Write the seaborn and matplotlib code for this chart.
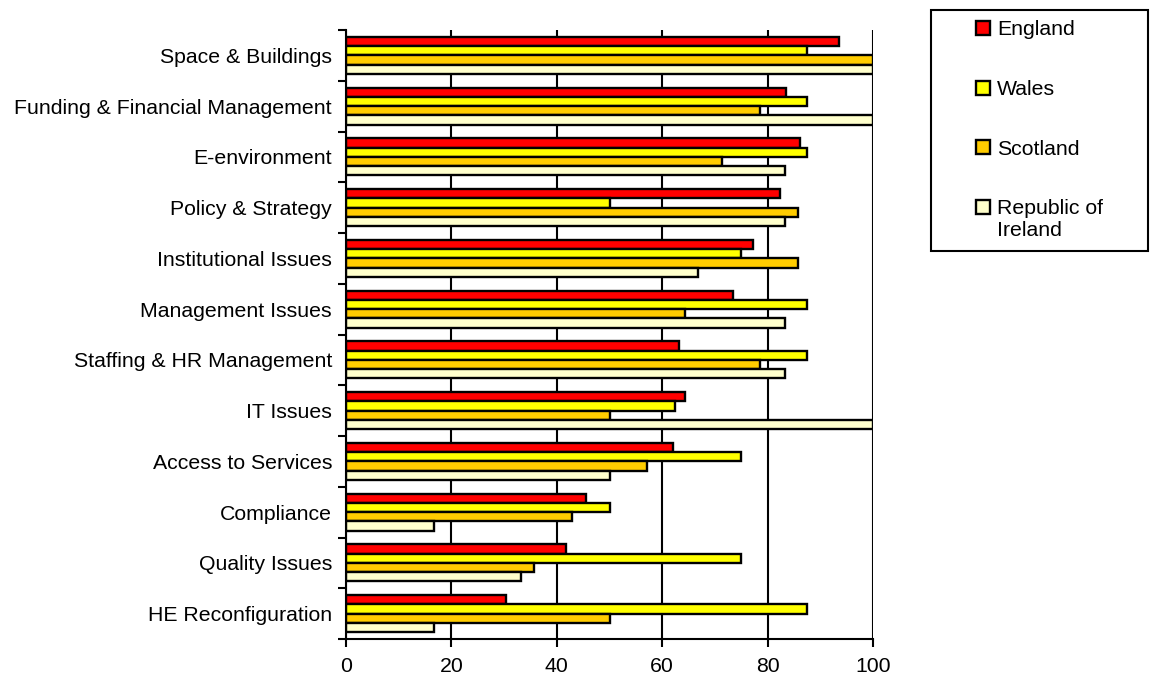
import numpy as np
import pandas as pd
import matplotlib
matplotlib.use("Agg")
import matplotlib.pyplot as plt
import seaborn as sns
from matplotlib.patches import Patch, Rectangle
from matplotlib.legend_handler import HandlerPatch

categories = ["Space & Buildings", "Funding & Financial Management", "E-environment",
              "Policy & Strategy", "Institutional Issues", "Management Issues",
              "Staffing & HR Management", "IT Issues", "Access to Services",
              "Compliance", "Quality Issues", "HE Reconfiguration"]
england = [93.5, 83.5, 86.2, 82.3, 77.2, 73.4, 63.2, 64.4, 62.0, 45.5, 41.7, 30.3]
wales = [87.5, 87.5, 87.5, 50.0, 75.0, 87.5, 87.5, 62.5, 75.0, 50.0, 75.0, 87.5]
scotland = [100.0, 78.6, 71.4, 85.7, 85.7, 64.3, 78.6, 50.0, 57.1, 42.9, 35.7, 50.0]
ireland = [100.0, 100.0, 83.3, 83.3, 66.7, 83.3, 83.3, 100.0, 50.0, 16.7, 33.3, 16.7]
series_names = ["England", "Wales", "Scotland", "Republic of Ireland"]
legend_labels = ["England", "Wales", "Scotland", "Republic of\nIreland"]
colors = ["#FF0000", "#FFFF00", "#FFCC00", "#FFFFCC"]
xticks = [0, 20, 40, 60, 80, 100]

rows = []
for name, vals in zip(series_names, [england, wales, scotland, ireland]):
    for c, v in zip(categories, vals):
        rows.append({"Category": c, "Country": name, "Value": v})
df = pd.DataFrame(rows)

sns.set_theme(style="white")
plt.rcParams["font.family"] = ["Liberation Sans", "DejaVu Sans"]
plt.rcParams["text.color"] = "black"
plt.rcParams["xtick.color"] = "black"
plt.rcParams["ytick.color"] = "black"
FS = 15.3

fig = plt.figure(figsize=(11.51, 6.79), dpi=100)
ax = fig.add_axes([346 / 1151, 40 / 679, 527 / 1151, 609 / 679])

sns.barplot(data=df, y="Category", x="Value", hue="Country", order=categories,
            hue_order=series_names, palette=colors, orient="h", width=0.73,
            edgecolor="black", linewidth=1.7, saturation=1, ax=ax, legend=False)

ax.set_xlim(0, 100)
ax.set_ylim(len(categories) - 0.5, -0.5)
ax.set_xticks(xticks)
ax.set_xticklabels([str(t) for t in xticks], fontsize=FS, color="black")
ax.set_yticks(range(len(categories)))
ax.set_yticklabels(categories, fontsize=FS, color="black")
ax.set_yticks(np.arange(-0.5, len(categories), 1.0), minor=True)
ax.tick_params(axis="y", which="major", length=0, pad=10)
ax.tick_params(axis="y", which="minor", length=6, width=1.5, direction="out", color="black", left=True)
ax.tick_params(axis="x", which="major", length=6, width=1.5, direction="out", color="black", pad=7, bottom=True)
ax.set_xlabel("")
ax.set_ylabel("")
ax.xaxis.grid(True, color="black", linewidth=1.5)
ax.yaxis.grid(False)
ax.set_axisbelow(True)
for s in ["top", "right"]:
    ax.spines[s].set_visible(False)
for s in ["left", "bottom"]:
    ax.spines[s].set_visible(True)
    ax.spines[s].set_color("black")
    ax.spines[s].set_linewidth(1.5)


def make_patch(legend, orig_handle, xdescent, ydescent, width, height, fontsize):
    size = 14 * 72 / 100.0
    shift = 0.6 * fontsize if "\n" in orig_handle.get_label() else 0
    return Rectangle((-xdescent + width - size, -ydescent + (height - size) / 2 + shift),
                     size, size)


handles = [Patch(facecolor=c, edgecolor="black", linewidth=1.7, label=l)
           for c, l in zip(colors, legend_labels)]
leg = fig.legend(handles=handles, labels=legend_labels, loc="upper left",
                 bbox_to_anchor=(930.7 / 1151, (679 - 10) / 679, 217 / 1151, 0.0),
                 mode="expand", fontsize=FS, frameon=True, fancybox=False,
                 borderpad=0.49, handlelength=2.28, handleheight=0.7,
                 handletextpad=0.35, labelspacing=1.91, borderaxespad=0,
                 handler_map={Patch: HandlerPatch(patch_func=make_patch)})
for t in leg.get_texts():
    t.set_color("black")
frame = leg.get_frame()
frame.set_edgecolor("black")
frame.set_linewidth(1.5)
frame.set_facecolor("white")
frame.set_alpha(1)

fig.savefig("out.png", dpi=100)
